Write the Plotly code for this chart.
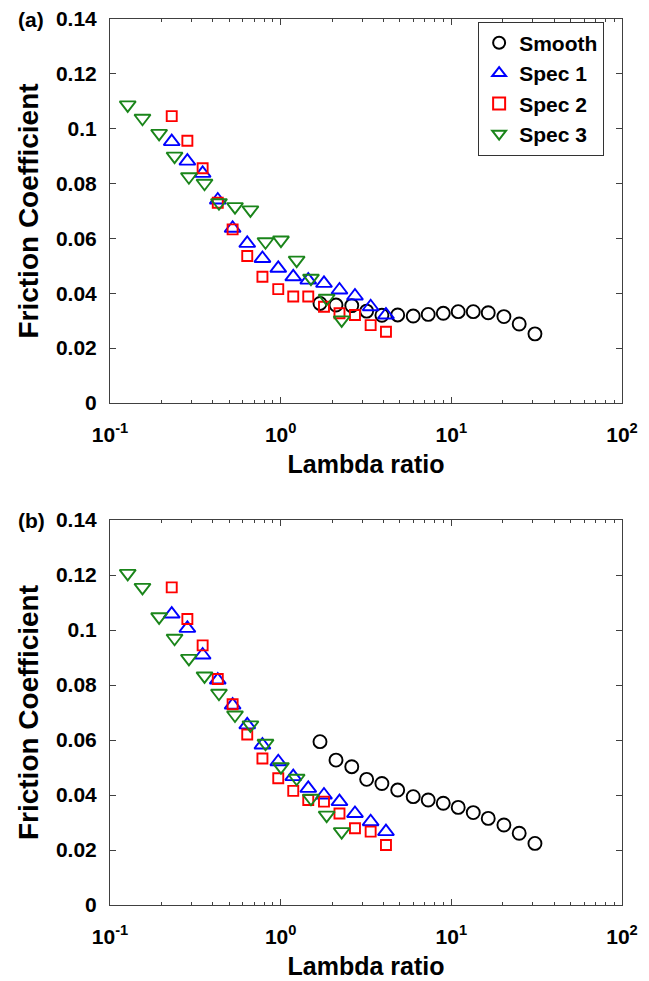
import plotly.graph_objects as go

# ---------------- data ----------------
spec_x = [0.230, 0.284, 0.349, 0.428, 0.523, 0.637, 0.782, 0.968, 1.185, 1.451,
          1.794, 2.211, 2.725, 3.367, 4.14]
spec3_x = [0.127, 0.155, 0.194, 0.239, 0.290, 0.358, 0.435, 0.540, 0.665, 0.815,
           1.004, 1.241, 1.505, 1.86, 2.278]
smooth_x = [1.70, 2.11, 2.61, 3.19, 3.92, 4.85, 5.98, 7.32, 8.97, 10.97,
            13.44, 16.45, 20.33, 24.98, 30.9]

# panel (a)
smooth_a = [0.0363, 0.0357, 0.0355, 0.0335, 0.0320, 0.0321, 0.0317, 0.0323, 0.0327, 0.0333,
            0.0333, 0.0329, 0.0315, 0.0288, 0.0252]
spec1_a = [0.0953, 0.0882, 0.0837, 0.0740, 0.0637, 0.0582, 0.0527, 0.0491, 0.0460, 0.0448,
           0.0436, 0.0412, 0.0390, 0.0351, 0.0321]
spec2_a = [0.1046, 0.0956, 0.0856, 0.0730, 0.0633, 0.0536, 0.0460, 0.0415, 0.0388, 0.0388,
           0.0351, 0.0327, 0.0321, 0.0284, 0.0260]
spec3_a = [0.1087, 0.1038, 0.0983, 0.0900, 0.0825, 0.0801, 0.0730, 0.0716, 0.0704, 0.0588,
           0.0594, 0.0521, 0.0455, 0.0382, 0.0303]

# panel (b)
smooth_b = [0.0594, 0.0527, 0.0503, 0.0457, 0.0442, 0.0418, 0.0394, 0.0382, 0.0370, 0.0355,
            0.0336, 0.0315, 0.0291, 0.0261, 0.0224]
spec1_b = [0.1058, 0.1006, 0.0909, 0.0818, 0.0727, 0.0655, 0.0582, 0.0521, 0.0467, 0.0424,
           0.0400, 0.0376, 0.0333, 0.0303, 0.0267]
spec2_b = [0.1155, 0.1040, 0.0944, 0.0822, 0.0730, 0.0620, 0.0533, 0.0461, 0.0415, 0.0382,
           0.0376, 0.0333, 0.0279, 0.0267, 0.0218]
spec3_b = [0.1206, 0.1155, 0.1048, 0.0970, 0.0897, 0.0833, 0.0770, 0.0691, 0.0655, 0.0588,
           0.0503, 0.0461, 0.0388, 0.0327, 0.0267]

series_names = ["Smooth", "Spec 1", "Spec 2", "Spec 3"]
x_ticks = [0.1, 1, 10, 100]
x_ticktext = ["10<sup>-1</sup>", "10<sup>0</sup>", "10<sup>1</sup>", "10<sup>2</sup>"]
y_ticks = [0, 0.02, 0.04, 0.06, 0.08, 0.1, 0.12, 0.14]
y_ticktext = ["0", "0.02", "0.04", "0.06", "0.08", "0.1", "0.12", "0.14"]
x_minor = [m * 10 ** e for e in (-1, 0, 1) for m in range(2, 10)]

# ---------------- styling ----------------
FONT = "Liberation Sans, Arial, sans-serif"
colors = ["#000000", "#0000ff", "#ff0000", "#1a851a"]
symbols = ["circle-open", "triangle-up-open", "square-open", "triangle-down-open"]
sizes = [13, 14, 10, 14]

fig = go.Figure()

panels = [
    ([smooth_x, spec_x, spec_x, spec3_x], [smooth_a, spec1_a, spec2_a, spec3_a], "x", "y", True),
    ([smooth_x, spec_x, spec_x, spec3_x], [smooth_b, spec1_b, spec2_b, spec3_b], "x2", "y2", False),
]
for xs, ys, xa, ya, show in panels:
    for i in range(4):
        fig.add_trace(go.Scatter(
            x=xs[i], y=ys[i], mode="markers", name=series_names[i],
            xaxis=xa, yaxis=ya, showlegend=show,
            marker=dict(symbol=symbols[i], size=sizes[i], color=colors[i],
                        line=dict(width=1.9, color=colors[i])),
        ))

AX = "#404040"

def xaxis_cfg(anchor):
    return dict(
        type="log", range=[-1, 2], domain=[0, 1], anchor=anchor, automargin=False,
        tickmode="array", tickvals=x_ticks, ticktext=x_ticktext,
        ticks="inside", ticklen=6, tickcolor=AX, tickwidth=1,
        minor=dict(tickmode="array", tickvals=x_minor, ticks="inside",
                   ticklen=3, tickcolor=AX, tickwidth=1),
        showline=True, linecolor=AX, linewidth=1, mirror="ticks",
        showgrid=False, zeroline=False,
        tickfont=dict(family=FONT, size=21, color="#000", weight="bold"),
        ticklabelstandoff=13,
        title=dict(text="Lambda ratio", standoff=10,
                   font=dict(family=FONT, size=25, color="#000", weight="bold")),
    )

def yaxis_cfg(anchor, domain):
    return dict(
        range=[0, 0.14], domain=domain, anchor=anchor, automargin=False,
        tickmode="array", tickvals=y_ticks, ticktext=y_ticktext,
        ticks="inside", ticklen=6, tickcolor=AX, tickwidth=1,
        showline=True, linecolor=AX, linewidth=1, mirror="ticks",
        showgrid=False, zeroline=False,
        tickfont=dict(family=FONT, size=21, color="#000", weight="bold"),
        ticklabelstandoff=8,
        title=dict(text="Friction Coefficient", standoff=9,
                   font=dict(family=FONT, size=28, color="#000", weight="bold")),
    )

fig.update_layout(
    width=649, height=981,
    margin=dict(l=110, r=27, t=19, b=76),
    paper_bgcolor="white", plot_bgcolor="white",
    xaxis=xaxis_cfg("y"),
    yaxis=yaxis_cfg("x", [0.5666, 1.0]),
    xaxis2=xaxis_cfg("y2"),
    yaxis2=yaxis_cfg("x2", [0.0, 0.4345]),
    legend=dict(
        x=0.719, y=0.997, xanchor="left", yanchor="top",
        bordercolor="#333", borderwidth=1, bgcolor="white",
        font=dict(family=FONT, size=21, color="#000", weight="bold"),
        itemsizing="constant", tracegroupgap=0,
    ),
    annotations=[
        dict(text="(a)", x=-0.154, y=1.0, xref="paper", yref="paper",
             xanchor="center", yanchor="middle", showarrow=False,
             font=dict(family=FONT, size=21, color="#000", weight="bold")),
        dict(text="(b)", x=-0.154, y=0.4345, xref="paper", yref="paper",
             xanchor="center", yanchor="middle", showarrow=False,
             font=dict(family=FONT, size=21, color="#000", weight="bold")),
    ],
)

fig.write_html("out.html")
